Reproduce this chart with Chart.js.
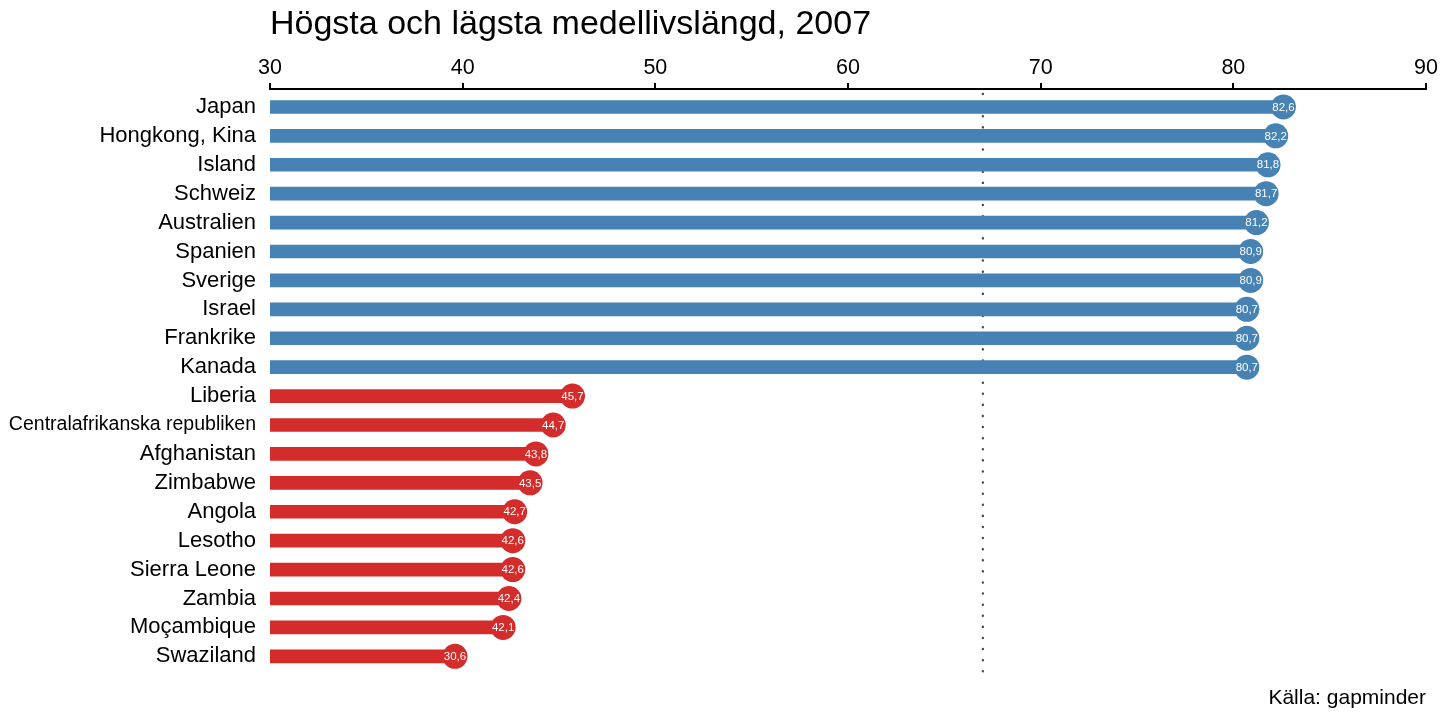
<!DOCTYPE html>
<html>
<head>
<meta charset="utf-8">
<script src="https://cdn.jsdelivr.net/npm/chart.js@4"></script>
<style>
    html, body { margin: 0; padding: 0; background: #fff; }
    #wrap { width: 1440px; height: 720px; }
</style>
</head>
<body>
<div id="wrap"><canvas id="lifeChart"></canvas></div>
<script>
// Medellivslängd 2007 (gapminder)
const countries = [
    'Japan', 'Hongkong, Kina', 'Island', 'Schweiz', 'Australien',
    'Spanien', 'Sverige', 'Israel', 'Frankrike', 'Kanada',
    'Liberia', 'Centralafrikanska republiken', 'Afghanistan', 'Zimbabwe', 'Angola',
    'Lesotho', 'Sierra Leone', 'Zambia', 'Moçambique', 'Swaziland'
];
const lifeExp = [
    82.6, 82.2, 81.8, 81.7, 81.2, 80.9, 80.9, 80.7, 80.7, 80.7,
    45.7, 44.7, 43.8, 43.5, 42.7, 42.6, 42.6, 42.4, 42.1, 39.6
];
// texts printed in the dots (as in the original, incl. "30,6")
const dotLabels = [
    '82,6', '82,2', '81,8', '81,7', '81,2', '80,9', '80,9', '80,7', '80,7', '80,7',
    '45,7', '44,7', '43,8', '43,5', '42,7', '42,6', '42,6', '42,4', '42,1', '30,6'
];
const group = ['top', 'top', 'top', 'top', 'top', 'top', 'top', 'top', 'top', 'top',
    'low', 'low', 'low', 'low', 'low', 'low', 'low', 'low', 'low', 'low'];
const worldAverage = 67.0;
const xTicks = [30, 40, 50, 60, 70, 80, 90];

const blue = '#4682b4';
const red = '#d42b2b';
const colors = group.map(function (g) { return g === 'top' ? blue : red; });

const fontFamily = '"Liberation Sans", Arial, sans-serif';

// small gap between the top axis and the first row
const rowGap = {
    id: 'rowGap',
    afterLayout: function (chart) {
        const y = chart.scales.y;
        y.top += 3.5;
        y.height -= 3.5;
        y.configure();
    }
};

// dotted average line + texts inside the dots
const extras = {
    id: 'extras',
    beforeDatasetsDraw: function (chart) {
        const ctx = chart.ctx;
        const x = chart.scales.x.getPixelForValue(worldAverage);
        ctx.save();
        ctx.strokeStyle = '#4a4a4a';
        ctx.lineWidth = 2.4;
        ctx.lineCap = 'round';
        ctx.setLineDash([0.1, 11]);
        ctx.beginPath();
        ctx.moveTo(x, chart.chartArea.top + 5);
        ctx.lineTo(x, chart.chartArea.bottom + 2);
        ctx.stroke();
        ctx.restore();
    },
    afterDatasetsDraw: function (chart) {
        const ctx = chart.ctx;
        const meta = chart.getDatasetMeta(1);
        ctx.save();
        ctx.fillStyle = '#fff';
        ctx.font = '11.5px ' + fontFamily;
        ctx.textAlign = 'center';
        ctx.textBaseline = 'middle';
        meta.data.forEach(function (pt, i) {
            ctx.fillText(dotLabels[i], pt.x, pt.y + 0.5);
        });
        ctx.restore();
    }
};

new Chart(document.getElementById('lifeChart'), {
    data: {
        labels: countries,
        datasets: [{
            type: 'bar',
            data: lifeExp,
            backgroundColor: colors,
            barThickness: 13,
            borderWidth: 0,
            order: 2
        }, {
            type: 'line',
            data: lifeExp,
            showLine: false,
            pointRadius: 12.5,
            pointHoverRadius: 12.5,
            pointBackgroundColor: colors,
            pointBorderWidth: 0,
            order: 1
        }]
    },
    plugins: [rowGap, extras],
    options: {
        indexAxis: 'y',
        responsive: true,
        maintainAspectRatio: false,
        animation: false,
        layout: { padding: { top: 4, right: 14, bottom: 0, left: 0 } },
        plugins: {
            legend: { display: false },
            tooltip: { enabled: false },
            title: {
                display: true,
                text: 'Högsta och lägsta medellivslängd, 2007',
                align: 'start',
                fullSize: false,
                color: '#000',
                font: { family: fontFamily, size: 34, weight: 'normal', lineHeight: 1.2 },
                padding: { top: 0, bottom: 0 }
            },
            subtitle: {
                display: true,
                position: 'bottom',
                text: 'Källa: gapminder',
                align: 'end',
                fullSize: false,
                color: '#000',
                font: { family: fontFamily, size: 21, lineHeight: 1.2 },
                padding: { top: 15, bottom: 9 }
            }
        },
        scales: {
            x: {
                position: 'top',
                min: 30,
                max: 90,
                afterBuildTicks: function (scale) {
                    scale.ticks = xTicks.map(function (v) { return { value: v }; });
                },
                afterFit: function (scale) { scale.height = 44.2; },
                grid: {
                    drawOnChartArea: false,
                    drawTicks: true,
                    tickLength: 6,
                    color: '#000',
                    lineWidth: 2
                },
                border: { display: true, color: '#000', width: 2 },
                ticks: {
                    color: '#000',
                    padding: 2,
                    maxRotation: 0,
                    font: { family: fontFamily, size: 21.5 }
                }
            },
            y: {
                afterFit: function (scale) { scale.width = 270; },
                grid: { display: false, drawTicks: false },
                border: { display: false },
                ticks: {
                    color: '#000',
                    padding: 14,
                    autoSkip: false,
                    font: function (c) {
                        const label = countries[c.index] || '';
                        return { family: fontFamily, size: label.length > 20 ? 19.5 : 22 };
                    }
                }
            }
        }
    }
});
</script>
</body>
</html>
